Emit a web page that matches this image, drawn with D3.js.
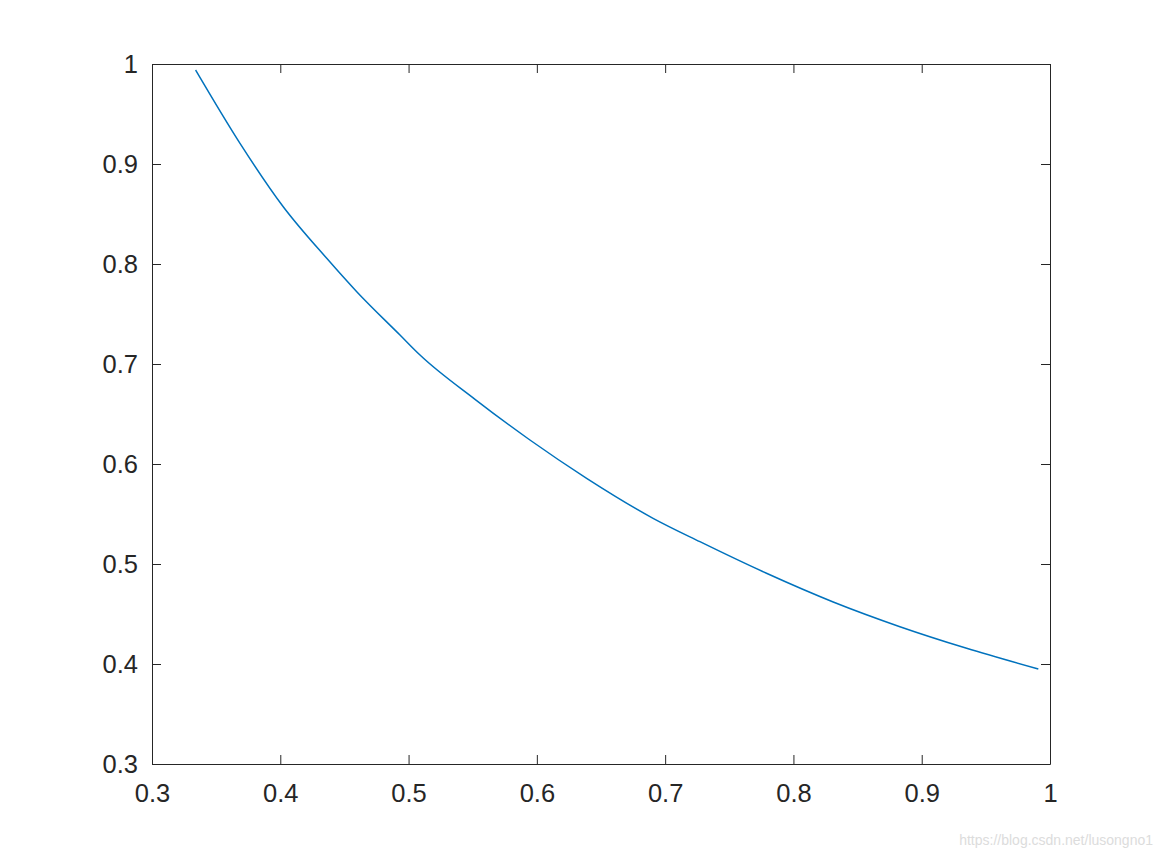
<!DOCTYPE html>
<html><head><meta charset="utf-8">
<script src="https://d3js.org/d3.v7.min.js"></script>
<style>body{margin:0;background:#fff;}svg{display:block;}</style>
</head><body>
<script>
const xValues = [0.3340, 0.3686, 0.4023, 0.4362, 0.4596, 0.4933, 0.5089, 0.5518, 0.5946, 0.6388, 0.6906, 0.7271, 0.7790, 0.8310, 0.8830, 0.9350, 0.9909];
const yValues = [0.9940, 0.9207, 0.8573, 0.8057, 0.7723, 0.7290, 0.7090, 0.6647, 0.6240, 0.5857, 0.5457, 0.5223, 0.4907, 0.4620, 0.4373, 0.4157, 0.3950];
const xTicks = [0.3, 0.4, 0.5, 0.6, 0.7, 0.8, 0.9, 1];
const yTicks = [0.3, 0.4, 0.5, 0.6, 0.7, 0.8, 0.9, 1];
const watermark = "https://blog.csdn.net/lusongno1";

const W = 1162, H = 859;
const L = 152, R = 1050, T = 64, B = 764;
const svg = d3.select("body").append("svg").attr("width", W).attr("height", H);
const x = d3.scaleLinear().domain([0.3, 1]).range([L, R]);
const y = d3.scaleLinear().domain([0.3, 1]).range([B, T]);
const fmt = d => d3.format("")(d);
const axisColor = "#262626";
const font = "'Liberation Sans', Arial, sans-serif";

function style(g, remove) {
  g.select(".domain").attr("stroke", axisColor).attr("stroke-width", 1);
  g.selectAll(".tick line").attr("stroke", axisColor).attr("stroke-width", 1);
  g.selectAll(".tick text").attr("fill", axisColor).attr("font-family", font).attr("font-size", 25.5);
  if (remove) g.selectAll(".tick text").remove();
}
const gB = svg.append("g").attr("transform", `translate(0,${B})`)
  .call(d3.axisBottom(x).tickValues(xTicks).tickFormat(fmt).tickSizeInner(-9).tickSizeOuter(0).tickPadding(20));
style(gB, false);
const gT = svg.append("g").attr("transform", `translate(0,${T})`)
  .call(d3.axisTop(x).tickValues(xTicks).tickSizeInner(-9).tickSizeOuter(0));
style(gT, true);
const gL = svg.append("g").attr("transform", `translate(${L},0)`)
  .call(d3.axisLeft(y).tickValues(yTicks).tickFormat(fmt).tickSizeInner(-9).tickSizeOuter(0).tickPadding(14));
style(gL, false);
const gR = svg.append("g").attr("transform", `translate(${R},0)`)
  .call(d3.axisRight(y).tickValues(yTicks).tickSizeInner(-9).tickSizeOuter(0));
style(gR, true);

const data = xValues.map((v, i) => [v, yValues[i]]);
svg.append("path").datum(data)
  .attr("fill", "none").attr("stroke", "#0072BD").attr("stroke-width", 1.5)
  .attr("d", d3.line().x(d => x(d[0])).y(d => y(d[1])).curve(d3.curveMonotoneX));

svg.append("text").attr("x", 1153).attr("y", 845).attr("text-anchor", "end")
  .attr("font-family", font).attr("font-size", 14).attr("fill", "#dcdcdc").text(watermark);
</script>
</body></html>
